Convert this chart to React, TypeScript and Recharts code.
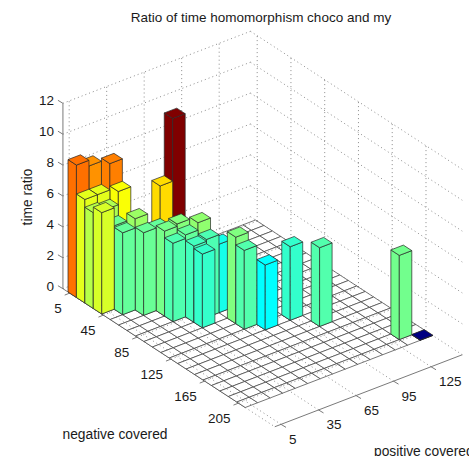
import { Scatter, ScatterChart, XAxis, YAxis } from "recharts";

const WIDTH = 469;
const HEIGHT = 456;

const positiveCovered = [5, 15, 25, 35, 45, 55, 65, 75, 85, 95, 105, 115, 125, 135, 145];
const negativeCovered = [
  5, 15, 25, 35, 45, 55, 65, 75, 85, 95, 105, 115, 125, 135, 145, 155, 165, 175, 185, 195, 205
];

// one entry per bar taller than the floor
const barPositive = [5, 5, 5, 5, 15, 15, 15, 15, 15, 25, 25, 25, 25, 35, 35, 35, 45, 45, 45, 45, 45, 55, 55, 55, 65, 65, 65, 75, 95, 105, 135, 145];
const barNegative = [5, 15, 25, 35, 5, 15, 25, 35, 45, 15, 25, 45, 55, 55, 65, 75, 45, 65, 75, 85, 95, 45, 75, 85, 85, 105, 115, 125, 125, 145, 195, 205];
const barRatio = [8.57, 6.7, 6.2, 6.56, 8.2, 6.7, 6.1, 5.4, 5.3, 8.4, 6.95, 5.9, 5.35, 5.3, 5.5, 5.07, 7.4, 5.65, 5.3, 4.93, 4.77, 11.46, 5.78, 5.05, 4.43, 5.6, 5.1, 4.2, 4.76, 5.1, 5.45, 0.02];

const ratioTicks = [0, 2, 4, 6, 8, 10, 12];
const positiveTicks = [5, 35, 65, 95, 125];
const negativeTicks = [5, 45, 85, 125, 165, 205];

const TITLE = "Ratio of time homomorphism choco and my";
const FONT = '"Liberation Sans", Arial, sans-serif';
const AXIS_GRAY = "#7a7a7a";
const COLOR_TOP = 11.2;

// axes box in category units
const X_MIN = 0.5;
const X_MAX = 15.5;
const J_MIN = -1.1;
const J_MAX = 24;
const GRID_J_MAX = 20.5;
const Z_MAX = 12;

const xIndex = (value: number) => (value - 5) / 10 + 1;
const jIndex = (value: number) => (value - 5) / 10;
const jTick = (value: number) => jIndex(value) - 0.3;

// orthographic view of the 3D axes
function project(x: number, j: number, z: number) {
  return {
    sx: 68 + 12.5 * (x - 0.5) + 8.44 * (j + 0.5),
    sy: 292 - 4.8 * (x - 0.5) + 5.5 * (j + 0.5) - 15.45 * z
  };
}

function jet(t: number) {
  const channel = (v: number) => Math.round(255 * Math.max(0, Math.min(1, v)));
  const r = channel(1.5 - Math.abs(4 * t - 3));
  const g = channel(1.5 - Math.abs(4 * t - 2));
  const b = channel(1.5 - Math.abs(4 * t - 1));
  return `rgb(${r},${g},${b})`;
}

function segment(a: { sx: number; sy: number }, b: { sx: number; sy: number }) {
  return [a, b];
}

const wallLines: { sx: number; sy: number }[][] = [];
const floorLines: { sx: number; sy: number }[][] = [];
const solid: { sx: number; sy: number }[][] = [];

ratioTicks.forEach((z) => {
  wallLines.push(segment(project(X_MIN, J_MIN, z), project(X_MAX, J_MIN, z)));
  wallLines.push(segment(project(X_MAX, J_MIN, z), project(X_MAX, J_MAX, z)));
  const p = project(X_MIN, J_MIN, z);
  solid.push(segment(p, { sx: p.sx - 5, sy: p.sy - 3 }));
});
positiveTicks.forEach((v) => {
  const x = xIndex(v);
  wallLines.push(segment(project(x, J_MIN, 0), project(x, J_MIN, Z_MAX)));
  floorLines.push(segment(project(x, J_MIN, 0), project(x, J_MAX, 0)));
  const p = project(x, J_MAX, 0);
  solid.push(segment(p, { sx: p.sx + 5, sy: p.sy + 3 }));
});
negativeTicks.forEach((v) => {
  const j = jTick(v);
  wallLines.push(segment(project(X_MAX, j, 0), project(X_MAX, j, Z_MAX)));
  floorLines.push(segment(project(X_MIN, j, 0), project(X_MAX, j, 0)));
  const p = project(X_MIN, j, 0);
  solid.push(segment(p, { sx: p.sx - 5, sy: p.sy + 2 }));
});
wallLines.push(segment(project(X_MIN, GRID_J_MAX, 0), project(X_MIN, J_MAX, 0)));
solid.push(segment(project(X_MIN, J_MIN, 0), project(X_MIN, J_MIN, Z_MAX)));
solid.push(segment(project(X_MIN, J_MIN, 0), project(X_MIN, GRID_J_MAX, 0)));
solid.push(segment(project(X_MIN, J_MAX, 0), project(X_MAX, J_MAX, 0)));

interface BarCell {
  sx: number;
  sy: number;
  i: number;
  j: number;
  z: number;
  fill: string;
}

function makeCell(i: number, j: number, z: number, fill: string): BarCell {
  return { ...project(i, j, 0), i, j, z, fill };
}

const floorCells: BarCell[] = [];
positiveCovered.forEach((p) => {
  negativeCovered.forEach((n) => {
    floorCells.push(makeCell(xIndex(p), jIndex(n), 0, "#ffffff"));
  });
});

const bars: BarCell[] = barRatio
  .map((z, k) => makeCell(xIndex(barPositive[k]), jIndex(barNegative[k]), z, jet(Math.min(1, z / COLOR_TOP))))
  .sort((a, b) => b.i - a.i || a.j - b.j);

const HIDE_POINT = () => <g />;

// the axes map 1:1 onto pixels, so corner offsets can be added to the scaled centre
function Bar3D(props: any) {
  const { cx, cy, payload } = props;
  const { i, j, z, fill } = payload as BarCell;
  const origin = project(i, j, 0);
  const corner = (dx: number, dj: number, h: number) => {
    const p = project(i + dx, j + dj, h);
    return `${cx + p.sx - origin.sx},${cy + p.sy - origin.sy}`;
  };
  const top = [corner(-0.5, -0.5, z), corner(0.5, -0.5, z), corner(0.5, 0.5, z), corner(-0.5, 0.5, z)];
  const left = [corner(-0.5, -0.5, 0), corner(-0.5, 0.5, 0), corner(-0.5, 0.5, z), corner(-0.5, -0.5, z)];
  const right = [corner(-0.5, 0.5, 0), corner(0.5, 0.5, 0), corner(0.5, 0.5, z), corner(-0.5, 0.5, z)];
  const edge = z > 0 ? "#262626" : "#3c3c3c";
  const common = { fill, stroke: edge, strokeWidth: 0.7, strokeLinejoin: "round" as const };
  if (z === 0) return <polygon points={top.join(" ")} {...common} />;
  return (
    <g>
      <polygon points={left.join(" ")} {...common} />
      <polygon points={right.join(" ")} {...common} />
      <polygon points={top.join(" ")} {...common} />
    </g>
  );
}

function TextPoint(props: any) {
  const { cx, cy, payload } = props;
  return (
    <text
      x={cx}
      y={cy}
      textAnchor={payload.anchor}
      dominantBaseline="central"
      fontFamily={FONT}
      fontSize={payload.size}
      fill="#1a1a1a"
      transform={payload.rotate ? `rotate(-90 ${cx} ${cy})` : undefined}
    >
      {payload.label}
    </text>
  );
}

const labels = [
  { sx: 261, sy: 17, label: TITLE, anchor: "middle", size: 13.5 },
  { sx: 27, sy: 197, label: "time ratio", anchor: "middle", size: 13.8, rotate: true },
  { sx: 115, sy: 434, label: "negative covered", anchor: "middle", size: 13.8 },
  { sx: 374, sy: 451, label: "positive covered", anchor: "start", size: 13.8 },
  ...ratioTicks.map((z) => {
    const p = project(X_MIN, J_MIN, z);
    return { sx: p.sx - 9, sy: p.sy - 2.5, label: String(z), anchor: "end", size: 13.5 };
  }),
  ...negativeTicks.map((v) => {
    const p = project(X_MIN, jTick(v), 0);
    return { sx: p.sx - 8, sy: p.sy + 15, label: String(v), anchor: "end", size: 13.5 };
  }),
  ...positiveTicks.map((v) => {
    const p = project(xIndex(v), J_MAX, 0);
    return { sx: p.sx + 8, sy: p.sy + 15, label: String(v), anchor: "start", size: 13.5 };
  })
];

const dottedStyle = { stroke: "#5a5a5a", strokeWidth: 0.7, strokeDasharray: "1 3" };

export default function App() {
  return (
    <div style={{ position: "absolute", left: 0, top: 0, width: WIDTH, height: HEIGHT }}>
      <ScatterChart width={WIDTH} height={HEIGHT} margin={{ top: 0, right: 0, bottom: 0, left: 0 }}>
        <XAxis type="number" dataKey="sx" domain={[0, WIDTH]} allowDataOverflow hide />
        <YAxis type="number" dataKey="sy" domain={[0, HEIGHT]} reversed allowDataOverflow hide />
        {wallLines.map((points, k) => (
          <Scatter key={`wall-${k}`} data={points} isAnimationActive={false} shape={HIDE_POINT} line={dottedStyle} />
        ))}
        {solid.map((points, k) => (
          <Scatter
            key={`solid-${k}`}
            data={points}
            isAnimationActive={false}
            shape={HIDE_POINT}
            line={{ stroke: AXIS_GRAY, strokeWidth: 1 }}
          />
        ))}
        <Scatter data={floorCells} isAnimationActive={false} shape={Bar3D} />
        {floorLines.map((points, k) => (
          <Scatter key={`floor-${k}`} data={points} isAnimationActive={false} shape={HIDE_POINT} line={dottedStyle} />
        ))}
        <Scatter data={bars} isAnimationActive={false} shape={Bar3D} />
        <Scatter data={labels} isAnimationActive={false} shape={TextPoint} />
      </ScatterChart>
    </div>
  );
}
